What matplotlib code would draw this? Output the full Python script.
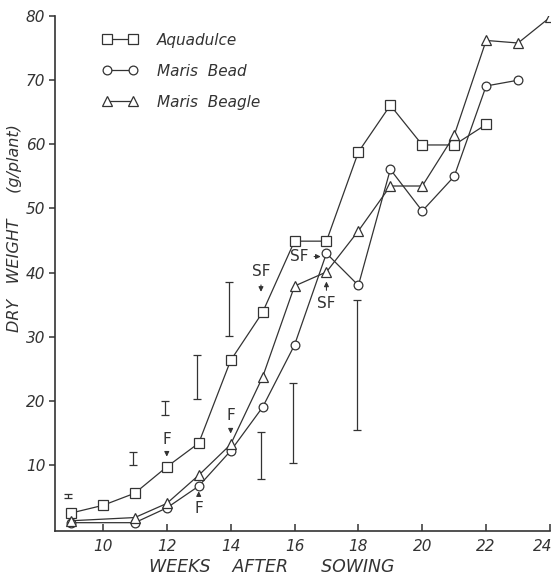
import matplotlib
matplotlib.use("Agg")
import matplotlib.pyplot as plt
import matplotlib.transforms as mtransforms
import numpy as np

# ---- data ----
weeks_aqua = [9, 10, 11, 12, 13, 14, 15, 16, 17, 18, 19, 20, 21, 22]
aquadulce = [2.5, 3.7, 5.6, 9.7, 13.4, 26.3, 33.8, 44.9, 44.9, 58.8, 66.1, 59.9, 59.9, 63.1]

weeks_bead = [9, 11, 12, 13, 14, 15, 16, 17, 18, 19, 20, 21, 22, 23]
maris_bead = [1.0, 1.0, 3.3, 6.7, 12.2, 19.0, 28.7, 43.0, 38.0, 56.1, 49.6, 55.0, 69.1, 70.0]

weeks_beagle = [9, 11, 12, 13, 14, 15, 16, 17, 18, 19, 20, 21, 22, 23, 24]
maris_beagle = [1.3, 1.8, 4.0, 8.4, 13.2, 23.7, 37.9, 40.1, 46.5, 53.5, 53.5, 61.4, 76.2, 75.8, 79.8]

err_weeks = [8.9, 10.95, 11.95, 12.95, 13.95, 14.95, 15.95, 17.95]
err_low = [4.8, 10.0, 17.8, 20.3, 30.1, 7.8, 10.3, 15.4]
err_high = [5.4, 12.0, 20.0, 27.1, 38.5, 15.1, 22.8, 35.7]

x_ticks = [10, 12, 14, 16, 18, 20, 22, 24]
y_ticks = [10, 20, 30, 40, 50, 60, 70, 80]

ink = "#333333"

fig = plt.figure(figsize=(5.55, 5.76), dpi=100)
ax = fig.add_axes([0.0991, 0.0781, 0.8919, 0.894])

ax.plot(weeks_aqua, aquadulce, color=ink, lw=0.9, marker="s", ms=7.2,
        mfc="white", mec=ink, mew=0.9, label="Aquadulce")
ax.plot(weeks_bead, maris_bead, color=ink, lw=0.9, marker="o", ms=6.3,
        mfc="white", mec=ink, mew=0.9, label="Maris  Bead")
ax.plot(weeks_beagle, maris_beagle, color=ink, lw=0.9, marker="^", ms=7.2,
        mfc="white", mec=ink, mew=0.9, label="Maris  Beagle")

low = np.array(err_low)
high = np.array(err_high)
ax.errorbar(err_weeks, (low + high) / 2, yerr=(high - low) / 2, fmt="none",
            ecolor=ink, elinewidth=0.9, capsize=2.6, capthick=0.9)

# annotations (F = flowering, SF = start of pod fill)
ann_kw = dict(ha="center", va="center", fontsize=11, color=ink)
arr = dict(arrowstyle="-|>", color=ink, lw=0.8, mutation_scale=7,
           shrinkA=2, shrinkB=0)
ax.annotate("F", xy=(12, 11.3), xytext=(12, 14.0), arrowprops=arr, **ann_kw)
ax.annotate("F", xy=(13, 5.9), xytext=(13, 3.2), arrowprops=arr, **ann_kw)
ax.annotate("F", xy=(14, 14.9), xytext=(14, 17.7), arrowprops=arr, **ann_kw)
ax.annotate("SF", xy=(14.95, 37.0), xytext=(14.95, 40.1), arrowprops=arr, **ann_kw)
ax.annotate("SF", xy=(16.82, 42.5), xytext=(16.15, 42.5), arrowprops=arr, **ann_kw)
ax.annotate("SF", xy=(17.0, 38.6), xytext=(17.0, 35.2), arrowprops=arr, **ann_kw)

ax.set_xlim(8.5, 24.0)
ax.set_ylim(-0.3, 80)
ax.set_xticks(x_ticks)
ax.set_yticks(y_ticks)
ax.set_xticklabels([str(t) for t in x_ticks], fontstyle="italic", fontsize=11, color=ink)
ax.set_yticklabels([str(t) for t in y_ticks], fontstyle="italic", fontsize=11, color=ink)
ax.tick_params(axis="x", direction="in", length=5, width=1.1, color=ink, pad=6)
ax.tick_params(axis="y", direction="out", length=4, width=1.1, color=ink, pad=3)

# keep the last x label inside the canvas
last = ax.get_xticklabels()[-1]
last.set_transform(last.get_transform() +
                   mtransforms.ScaledTranslation(-5 / 72, 0, fig.dpi_scale_trans))

for s in ["top", "right"]:
    ax.spines[s].set_visible(False)
for s in ["left", "bottom"]:
    ax.spines[s].set_color(ink)
    ax.spines[s].set_linewidth(1.2)

fig.text(0.49, 0.016, "WEEKS    AFTER      SOWING", ha="center", va="center",
         fontsize=12.5, fontstyle="italic", color=ink)
fig.text(0.027, 0.604, "DRY   WEIGHT     (g/plant)", ha="center", va="center",
         rotation=90, fontsize=11.5, fontstyle="italic", color=ink)

leg = ax.legend(loc="upper left", bbox_to_anchor=(0.095, 0.968), frameon=False,
                numpoints=2, handlelength=2.3, handletextpad=1.3,
                labelspacing=1.05, borderpad=0, borderaxespad=0,
                prop=dict(style="italic", size=11))
for t in leg.get_texts():
    t.set_color(ink)

fig.savefig("out.png", dpi=100)
